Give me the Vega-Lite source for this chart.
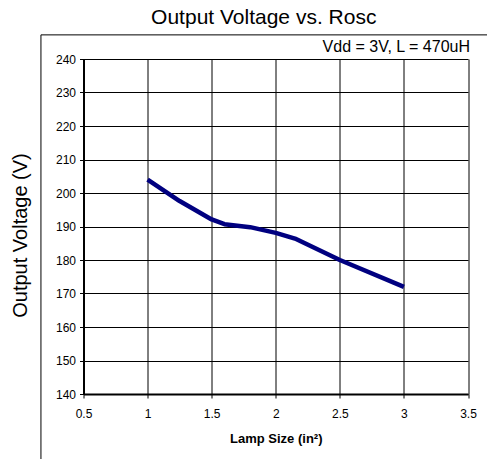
{
  "$schema": "https://vega.github.io/schema/vega-lite/v6.json",
  "width": 384.5,
  "height": 335,
  "autosize": {"type": "none"},
  "padding": {"left": 83.5, "top": 59, "right": 19, "bottom": 65},
  "background": "white",
  "title": {
    "text": "Output Voltage vs. Rosc",
    "font": "Liberation Sans",
    "fontSize": 21,
    "fontWeight": "normal",
    "color": "black",
    "dx": -12,
    "offset": 6
  },
  "config": {
    "view": {"stroke": null},
    "axis": {
      "grid": true,
      "labelFont": "Liberation Sans",
      "labelFontSize": 12,
      "labelColor": "black",
      "labelOverlap": false,
      "titleFont": "Liberation Sans",
      "titleColor": "black",
      "domainColor": "black",
      "domainWidth": 2,
      "tickColor": "black",
      "tickWidth": 1,
      "tickSize": 4,
      "gridColor": "black",
      "gridWidth": 1,
      "gridOpacity": 1
    }
  },
  "layer": [
    {
      "data": {"values": [
        {"lamp": 1.0, "voltage": 204.0},
        {"lamp": 1.25, "voltage": 197.6},
        {"lamp": 1.5, "voltage": 192.1},
        {"lamp": 1.6, "voltage": 190.7},
        {"lamp": 1.8, "voltage": 189.8},
        {"lamp": 2.0, "voltage": 188.1},
        {"lamp": 2.15, "voltage": 186.4},
        {"lamp": 2.5, "voltage": 180.0},
        {"lamp": 3.0, "voltage": 172.0}
      ]},
      "mark": {"type": "line", "color": "#000080", "strokeWidth": 4.5, "strokeJoin": "round", "strokeCap": "butt"},
      "encoding": {
        "x": {
          "field": "lamp", "type": "quantitative",
          "scale": {"domain": [0.5, 3.5], "nice": false, "zero": false},
          "axis": {
            "grid": true,
            "values": [0.5, 1, 1.5, 2, 2.5, 3, 3.5],
            "format": "~g",
            "title": "Lamp Size (in²)",
            "titleFontSize": 13,
            "titleFontWeight": "bold",
            "titlePadding": 13,
            "labelPadding": 10,
            "labelFlush": false
          }
        },
        "y": {
          "field": "voltage", "type": "quantitative",
          "scale": {"domain": [140, 240], "nice": false, "zero": false},
          "axis": {
            "grid": true,
            "values": [140, 150, 160, 170, 180, 190, 200, 210, 220, 230, 240],
            "tickCount": 11,
            "format": "d",
            "title": "Output Voltage (V)",
            "titleFontSize": 20,
            "titleFontWeight": "normal",
            "titlePadding": 25,
            "titleY": 176,
            "labelPadding": 4,
            "labelFlush": false
          }
        }
      }
    },
    {
      "data": {"values": [{"note": "Vdd = 3V, L = 470uH"}]},
      "mark": {"type": "text", "align": "right", "baseline": "middle", "font": "Liberation Sans", "fontSize": 16, "color": "black", "dx": 2},
      "encoding": {
        "text": {"field": "note"},
        "x": {"datum": 3.5, "type": "quantitative",
          "axis": {"grid": true, "values": [0.5, 1, 1.5, 2, 2.5, 3, 3.5], "format": "~g", "title": "Lamp Size (in²)"}},
        "y": {"datum": 243.6, "type": "quantitative",
          "axis": {"grid": true, "values": [140, 150, 160, 170, 180, 190, 200, 210, 220, 230, 240], "tickCount": 11, "format": "d", "title": "Output Voltage (V)"}}
      }
    },
    {
      "data": {"values": [{"frame": "chart area"}]},
      "mark": {"type": "rect", "fillOpacity": 0, "stroke": "black", "strokeWidth": 1, "clip": false},
      "encoding": {
        "x": {"datum": 0.168, "type": "quantitative",
          "axis": {"grid": true, "values": [0.5, 1, 1.5, 2, 2.5, 3, 3.5], "format": "~g", "title": "Lamp Size (in²)"}},
        "x2": {"datum": 3.9},
        "y": {"datum": 247.2, "type": "quantitative",
          "axis": {"grid": true, "values": [140, 150, 160, 170, 180, 190, 200, 210, 220, 230, 240], "tickCount": 11, "format": "d", "title": "Output Voltage (V)"}},
        "y2": {"datum": 100}
      }
    }
  ]
}
